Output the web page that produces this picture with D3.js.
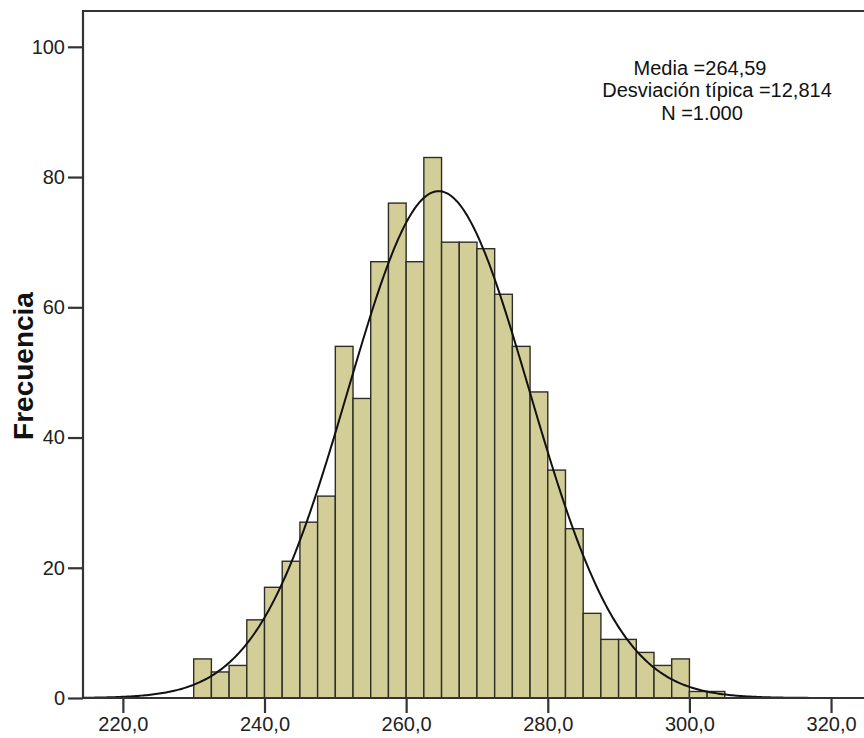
<!DOCTYPE html>
<html>
<head>
<meta charset="utf-8">
<script src="https://cdn.jsdelivr.net/npm/d3@7/dist/d3.min.js"></script>
<style>
  html, body { margin: 0; padding: 0; background: #fff; }
  svg { display: block; font-family: "Liberation Sans", Arial, sans-serif; }
</style>
</head>
<body>
<div id="chart"></div>
<script>
// histogram bins (lower edge) and counts
const binStarts = [230, 232.5, 235, 237.5, 240, 242.5, 245, 247.5, 250, 252.5,
                   255, 257.5, 260, 262.5, 265, 267.5, 270, 272.5, 275, 277.5,
                   280, 282.5, 285, 287.5, 290, 292.5, 295, 297.5, 300, 302.5];
const counts = [6, 4, 5, 12, 17, 21, 27, 31, 54, 46,
                67, 76, 67, 83, 70, 70, 69, 62, 54, 47,
                35, 26, 13, 9, 9, 7, 5, 6, 1, 1];
const binWidth = 2.5;

// summary stats shown on chart
const mean = 264.59;
const sd = 12.814;
const n = 1000;
const statLines = ['Media =264,59', 'Desviación típica =12,814', 'N =1.000'];

const xTicks = [220, 240, 260, 280, 300, 320];
const yTicks = [0, 20, 40, 60, 80, 100];

const W = 864, H = 738;
const margin = { top: 11, right: -6, bottom: 40, left: 83 };

const svg = d3.select('#chart').append('svg')
  .attr('width', W).attr('height', H);

const x = d3.scaleLinear()
  .domain([214.37, 325.5])
  .range([margin.left, W - margin.right]);

const y = d3.scaleLinear()
  .domain([0, 105.5])
  .range([H - margin.bottom, margin.top]);

const data = binStarts.map((s, i) => ({ x0: s, x1: s + binWidth, count: counts[i] }));

// --- bars ---
svg.append('g')
  .selectAll('rect')
  .data(data)
  .join('rect')
    .attr('x', d => x(d.x0))
    .attr('y', d => y(d.count))
    .attr('width', d => x(d.x1) - x(d.x0))
    .attr('height', d => y(0) - y(d.count))
    .attr('fill', '#d3ce97')
    .attr('stroke', '#2e2e26')
    .attr('stroke-width', 1.4);

// --- normal curve from the shown mean / sd ---
const pdf = v => n * binWidth / (sd * Math.sqrt(2 * Math.PI)) * Math.exp(-0.5 * ((v - mean) / sd) ** 2);
const curveX = d3.range(x.domain()[0], x.domain()[1], 0.25);
svg.append('path')
  .datum(curveX)
  .attr('fill', 'none')
  .attr('stroke', '#111')
  .attr('stroke-width', 2)
  .attr('d', d3.line().x(v => x(v)).y(v => y(pdf(v))));

// --- frame ---
svg.append('path')
  .attr('d', `M${x.range()[1]},${y.range()[1]}H${x.range()[0]}V${y.range()[0]}H${x.range()[1]}`)
  .attr('fill', 'none')
  .attr('stroke', '#333')
  .attr('stroke-width', 2.2);

// --- axes ---
const fmt = d => d3.format('.1f')(d).replace('.', ',');

const xAxis = svg.append('g')
  .attr('transform', `translate(0,${y(0)})`)
  .call(d3.axisBottom(x).tickValues(xTicks).tickFormat(fmt).tickSize(15).tickSizeOuter(0).tickPadding(4));

const yAxis = svg.append('g')
  .attr('transform', `translate(${x.range()[0]},0)`)
  .call(d3.axisLeft(y).tickValues(yTicks).tickSize(15).tickSizeOuter(0).tickPadding(3));

[xAxis, yAxis].forEach(a => {
  a.select('.domain').remove();
  a.selectAll('.tick line').attr('stroke', '#333').attr('stroke-width', 2.2);
  a.selectAll('.tick text')
    .attr('fill', '#222')
    .style('font-size', '20px')
    .style('font-family', '"Liberation Sans", Arial, sans-serif');
});

// --- y label ---
svg.append('text')
  .attr('transform', 'translate(33,366) rotate(-90)')
  .attr('text-anchor', 'middle')
  .style('font-size', '28px')
  .style('font-weight', 'bold')
  .attr('fill', '#111')
  .text('Frecuencia');

// --- stats box text ---
const statX = [700, 717, 702];
const statY = [75, 97, 120];
svg.append('g')
  .selectAll('text')
  .data(statLines)
  .join('text')
    .attr('x', (d, i) => statX[i])
    .attr('y', (d, i) => statY[i])
    .attr('text-anchor', 'middle')
    .attr('fill', '#111')
    .style('font-size', '20px')
    .text(d => d);
</script>
</body>
</html>
